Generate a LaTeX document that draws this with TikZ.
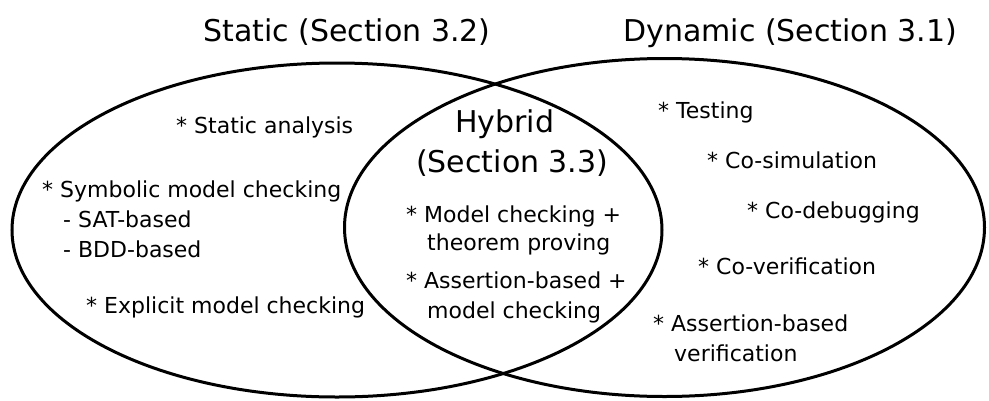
\documentclass[tikz,border=0pt]{standalone}
\usepackage{fontspec}
\setmainfont{DejaVu Sans}
\begin{document}
\begin{tikzpicture}[x=1pt,y=-1pt,
  title/.style={font=\fontsize{30}{36}\selectfont, inner sep=0pt, anchor=base west},
  item/.style={font=\fontsize{22}{28}\selectfont, inner sep=0pt, anchor=base west},
  setline/.style={line width=3pt, draw=black}]
\useasboundingbox (0,0) rectangle (989,400);
% sets
\draw[setline] (337,230) ellipse [x radius=325pt, y radius=167pt];
\draw[setline] (664.5,227.5) ellipse [x radius=320pt, y radius=169pt];
% titles
\node[title] (tstatic) at (203,41) {Static (Section 3.2)};
\node[title] (tdyn) at (623,41) {Dynamic (Section 3.1)};
% static items
\node[item] (s1) at (176,133) {* Static analysis};
\node[item] (s2) at (42,197) {* Symbolic model checking};
\node[item] (s3) at (63,227) {- SAT-based};
\node[item] (s4) at (63,257) {- BDD-based};
\node[item] (s5) at (86,313) {* Explicit model checking};
% hybrid
\node[title] (h1) at (455,132) {Hybrid};
\node[title] (h2) at (416,172) {(Section 3.3)};
\node[item] (h3) at (406,222) {* Model checking +};
\node[item] (h4) at (427,250) {theorem proving};
\node[item] (h5) at (406,288) {* Assertion-based +};
\node[item] (h6) at (427,318) {model checking};
% dynamic items
\node[item] (d1) at (658,118) {* Testing};
\node[item] (d2) at (707,168) {* Co-simulation};
\node[item] (d3) at (747,218) {* Co-debugging};
\node[item] (d4) at (698,274) {* Co-verification};
\node[item] (d5) at (653,331) {* Assertion-based};
\node[item] (d6) at (674,361) {verification};
\end{tikzpicture}
\end{document}
